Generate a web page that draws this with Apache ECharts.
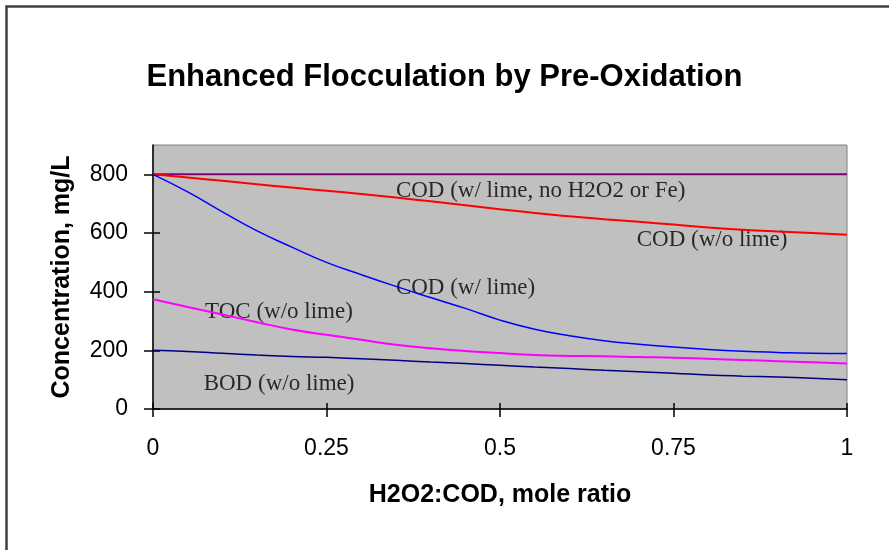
<!DOCTYPE html>
<html>
<head>
<meta charset="utf-8">
<title>Enhanced Flocculation by Pre-Oxidation</title>
<script src="https://cdn.jsdelivr.net/npm/echarts@6/dist/echarts.min.js"></script>
<style>
  html, body { margin: 0; padding: 0; background: #fff; }
  #chart { width: 889px; height: 550px; }
</style>
</head>
<body>
<div id="chart"></div>
<script>
// H2O2:COD mole ratio, sampled every 0.05
const ratio = [0, 0.05, 0.1, 0.15, 0.2, 0.25, 0.3, 0.35, 0.4, 0.45, 0.5,
  0.55, 0.6, 0.65, 0.7, 0.75, 0.8, 0.85, 0.9, 0.95, 1];

const codLimeNoOx = [800, 800, 800, 800, 800, 800, 800, 800, 800, 800, 800,
  800, 800, 800, 800, 800, 800, 800, 800, 800, 800];
const codNoLime = [800, 789, 778, 766, 755, 744, 733, 721, 708, 695, 681,
  668, 657, 647, 638, 629, 619, 611, 605, 600, 594];
const codLime = [800, 740, 672, 607, 552, 500, 458, 418, 380, 343, 303,
  272, 250, 233, 221, 211, 203, 197, 193, 190, 189];
const tocNoLime = [374, 348, 322, 296, 271, 253, 236, 219, 207, 198, 191,
  184, 181, 180, 177, 175, 171, 167, 163, 159, 155];
const bodNoLime = [200, 196, 190, 184, 179, 176, 171, 166, 160, 155, 149,
  143, 138, 132, 127, 122, 116, 112, 109, 105, 100];

const yTicks = [0, 200, 400, 600, 800];

// curve labels, placed in data units (left edge, vertical middle)
const labelText = ['COD (w/ lime, no H2O2 or Fe)', 'COD (w/o lime)', 'COD (w/ lime)',
  'TOC (w/o lime)', 'BOD (w/o lime)'];
const labelX = [0.350, 0.697, 0.350, 0.075, 0.073];
const labelY = [742, 577, 413, 331, 84];

const pairs = (ys) => ratio.map((x, i) => [x, ys[i]]);

const chart = echarts.init(document.getElementById('chart'));

function line(name, data, color, width) {
  return {
    name,
    type: 'line',
    data: pairs(data),
    showSymbol: false,
    smooth: true,
    silent: true,
    lineStyle: { color, width },
    animation: false
  };
}

chart.setOption({
  backgroundColor: '#ffffff',
  title: {
    text: 'Enhanced Flocculation by Pre-Oxidation',
    left: 'center',
    top: 57,
    textStyle: {
      fontFamily: 'Liberation Sans, Arial, sans-serif',
      fontSize: 31,
      fontWeight: 'bold',
      color: '#000'
    }
  },
  graphic: [{
    type: 'rect',
    silent: true,
    shape: { x: 6.5, y: 6.5, width: 1000, height: 1000 },
    style: { fill: 'none', stroke: '#404040', lineWidth: 2.5 }
  }],
  grid: {
    left: 153,
    right: 42,
    top: 145,
    bottom: 141,
    show: true,
    backgroundColor: '#c0c0c0',
    borderColor: '#808080',
    borderWidth: 1
  },
  xAxis: [{
    type: 'value',
    min: 0,
    max: 1,
    interval: 0.25,
    name: 'H2O2:COD, mole ratio',
    nameLocation: 'middle',
    nameGap: 74,
    nameTextStyle: {
      fontFamily: 'Liberation Sans, Arial, sans-serif',
      fontSize: 25,
      fontWeight: 'bold',
      color: '#000'
    },
    axisLine: { show: true, onZero: false, lineStyle: { color: '#000', width: 1.5 } },
    axisTick: { show: true, length: 8, lineStyle: { color: '#000', width: 1.5 } },
    axisLabel: {
      margin: 28,
      fontFamily: 'Liberation Sans, Arial, sans-serif',
      fontSize: 23,
      color: '#000'
    },
    splitLine: { show: false }
  }, {
    // inside half of the crossing ticks
    type: 'value',
    min: 0,
    max: 1,
    interval: 0.25,
    position: 'bottom',
    axisLine: { show: false },
    axisTick: { show: true, inside: true, length: 6, lineStyle: { color: '#000', width: 1.5 } },
    axisLabel: { show: false },
    splitLine: { show: false }
  }],
  yAxis: [{
    type: 'value',
    min: 0,
    max: 900,
    name: 'Concentration, mg/L',
    nameLocation: 'middle',
    nameGap: 78,
    nameTextStyle: {
      fontFamily: 'Liberation Sans, Arial, sans-serif',
      fontSize: 25,
      fontWeight: 'bold',
      color: '#000'
    },
    axisLine: { show: true, onZero: false, lineStyle: { color: '#000', width: 1.5 } },
    axisTick: { show: true, length: 9, customValues: yTicks, lineStyle: { color: '#000', width: 1.5 } },
    axisLabel: {
      margin: 25,
      customValues: yTicks,
      fontFamily: 'Liberation Sans, Arial, sans-serif',
      fontSize: 23,
      color: '#000'
    },
    splitLine: { show: false }
  }, {
    type: 'value',
    min: 0,
    max: 900,
    position: 'left',
    axisLine: { show: false },
    axisTick: { show: true, inside: true, length: 7, customValues: yTicks, lineStyle: { color: '#000', width: 1.5 } },
    axisLabel: { show: false },
    splitLine: { show: false }
  }],
  series: [
    line('COD (w/ lime, no H2O2 or Fe)', codLimeNoOx, '#800080', 2),
    line('COD (w/o lime)', codNoLime, '#ff0000', 2),
    line('COD (w/ lime)', codLime, '#0000ff', 1.5),
    line('TOC (w/o lime)', tocNoLime, '#ff00ff', 2),
    line('BOD (w/o lime)', bodNoLime, '#000080', 1.5),
    {
      type: 'scatter',
      symbolSize: 0,
      silent: true,
      animation: false,
      data: labelText.map((t, i) => ({ name: t, value: [labelX[i], labelY[i]] })),
      label: {
        show: true,
        position: 'right',
        distance: 0,
        formatter: (p) => p.name,
        fontFamily: 'Liberation Serif, Times New Roman, serif',
        fontSize: 23,
        color: '#000'
      }
    }
  ]
});
</script>
</body>
</html>
